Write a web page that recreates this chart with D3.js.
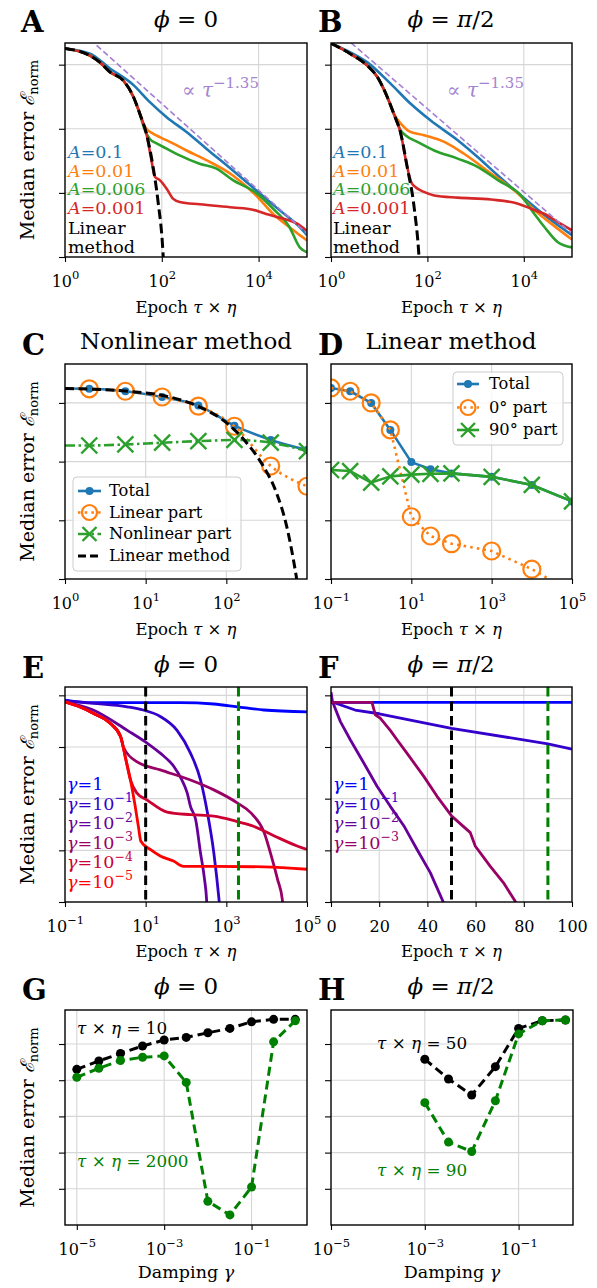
<!DOCTYPE html>
<html><head><meta charset="utf-8">
<script src="https://cdn.jsdelivr.net/npm/d3@7"></script>
<style>
body{margin:0;background:#fff}
svg{display:block}
text{font-family:"DejaVu Serif",serif;fill:#000}
</style></head>
<body><svg id="c" width="597" height="1288"></svg>
<script>
// ================= DATA =================
// Panel A (phi = 0): [epoch, median error]
const A_blue   = [[1,0.32],[3.3,0.22],[8.5,0.076],[26,0.023],[56,0.0069],[126,0.0023],[324,7.9e-4],[832,2.4e-4],[2950,5.0e-5],[8900,1.2e-5],[27000,2.9e-6],[70800,8.5e-7],[1e5,4.8e-7]];
const A_orange = [[1,0.32],[3.2,0.195],[5.2,0.12],[8.5,0.059],[16,0.032],[26,0.0098],[35,0.0030],[41,1.44e-3],[48,1.0e-3],[66,7.1e-4],[91,5.5e-4],[170,3.5e-4],[324,2.1e-4],[832,1.05e-4],[2950,3.5e-5],[8900,8.3e-6],[20000,2.2e-6],[43600,8.5e-7],[70800,4.8e-7],[1e5,3.3e-7]];
const A_green  = [[1,0.32],[3.2,0.195],[5.2,0.12],[8.5,0.059],[16,0.032],[26,0.0098],[35,0.0030],[45,8.9e-4],[56,4.9e-4],[78,3.5e-4],[126,2.4e-4],[234,1.48e-4],[603,8.1e-5],[1350,5.7e-5],[2950,2.5e-5],[8900,1.0e-5],[20000,3.2e-6],[43600,8.5e-7],[70800,2.0e-7],[1e5,1.4e-7]];
const A_red    = [[1,0.32],[3.2,0.195],[5.2,0.12],[8.5,0.059],[16,0.032],[26,0.0098],[35,0.0030],[48,7.1e-4],[61,1.05e-4],[72,3.2e-5],[91,2.5e-5],[126,1.35e-5],[170,6.6e-6],[234,5.2e-6],[603,4.4e-6],[2950,3.5e-6],[7600,3.0e-6],[14400,2.2e-6],[31600,1.58e-6],[70800,9.8e-7],[1e5,6.5e-7]];
const A_linear = [[1,0.32],[3.2,0.195],[5.2,0.12],[8.5,0.059],[16,0.032],[26,0.0098],[35,0.0030],[48,7.1e-4],[66,6.5e-5],[83,5.9e-6],[107,1e-7],[115,1e-8]];
const A_power  = [[4.5,0.40],[1e5,5.4e-7]];
// Panel B (phi = pi/2)
const B_blue   = [[1,0.46],[2.1,0.28],[5.6,0.12],[17,0.026],[45,0.0060],[117,0.0018],[425,4.4e-4],[1100,1.32e-4],[2900,3.5e-5],[8700,8.3e-6],[27000,2.0e-6],[1e5,4.8e-7]];
const B_orange = [[1,0.46],[2.5,0.22],[5.6,0.095],[9.1,0.042],[14.7,0.0098],[20,0.0030],[30,1.29e-3],[41,8.5e-4],[85,6.3e-4],[224,3.9e-4],[575,1.66e-4],[2100,4.0e-5],[7600,9.5e-6],[16600,2.9e-6],[37000,1.1e-6],[1e5,3.5e-7]];
const B_green  = [[1,0.46],[2.5,0.22],[5.6,0.095],[9.1,0.042],[14.7,0.0098],[20,0.0030],[28,8.9e-4],[35,6.3e-4],[62,3.9e-4],[138,2.1e-4],[425,1.17e-4],[1100,6.5e-5],[2900,2.5e-5],[8700,8.3e-6],[16600,2.2e-6],[27000,8.5e-7],[51000,2.9e-7],[1e5,2.0e-7]];
const B_red    = [[1,0.46],[2.5,0.22],[5.6,0.095],[9.1,0.042],[14.7,0.0098],[20,0.0030],[28,7.1e-4],[38,6.5e-5],[46,2.2e-5],[57,1.5e-5],[85,1.07e-5],[138,8.3e-6],[425,7.1e-6],[2100,6.2e-6],[7600,4.6e-6],[14100,3.2e-6],[27000,2.2e-6],[51000,1.23e-6],[1e5,6.8e-7]];
const B_linear = [[1,0.46],[2.5,0.22],[5.6,0.095],[9.1,0.042],[14.7,0.0098],[20,0.0030],[28,7.1e-4],[38,6.5e-5],[53,3.6e-6],[67,1e-7],[73,1e-8]];
const B_power  = [[2.6,0.48],[1e5,5.4e-7]];
const A_labels = ["0.1","0.01","0.006","0.001"];
// Panel C (nonlinear method)
const C_total     = [[1,0.176],[2,0.174],[5.6,0.158],[16,0.126],[45,0.090],[126,0.041],[355,0.0234],[1000,0.0158]];
const C_linPart   = [[1,0.176],[2,0.174],[5.6,0.158],[16,0.126],[45,0.088],[126,0.040],[355,0.0084],[1000,0.0038]];
const C_nonlinPart= [[1,0.0188],[2,0.0188],[5.6,0.0196],[16,0.021],[45,0.0223],[126,0.0234],[355,0.021],[1000,0.0151]];
const C_linMethod = [[1,0.176],[7,0.155],[18,0.13],[47,0.085],[100,0.046],[178,0.021],[288,0.0083],[420,0.0029],[560,7.9e-4],[745,1.0e-4],[815,4.5e-5]];
// Panel D (linear method)
const D_total  = [[0.1,0.18],[0.3,0.158],[1,0.1],[3,0.0347],[10,0.0098],[30,0.0074],[100,0.0063],[1000,0.0055],[1e4,0.0040],[1e5,0.0021]];
const D_zero   = [[0.1,0.18],[0.3,0.158],[1,0.1],[3,0.0347],[10,0.00115],[30,5.4e-4],[100,4.0e-4],[1000,3.0e-4],[1e4,1.47e-4],[1e5,6e-5]];
const D_ninety = [[0.1,0.0072],[0.3,0.0069],[1,0.0044],[3,0.0056],[10,0.0060],[30,0.0062],[100,0.0063],[1000,0.0055],[1e4,0.0040],[1e5,0.0021]];
// Panel E (phi = 0, damping)
const gammaLabels = ["1","−1","−2","−3","−4","−5"];
const E_g0 = [[0.1,0.81],[0.5,0.72],[8.7,0.72],[72,0.72],[490,0.68],[1860,0.60],[8500,0.52],[1e5,0.48]];
const E_g1 = [[0.1,0.78],[0.5,0.70],[3.5,0.60],[8.7,0.52],[23,0.39],[60,0.21],[129,0.076],[229,0.023],[339,0.0054],[490,8.9e-4],[660,1.1e-4],[724,5e-5]];
const E_g2 = [[0.1,0.75],[0.5,0.52],[3.5,0.21],[10.7,0.12],[23,0.076],[50,0.042],[79,0.023],[107,0.0129],[129,0.0071],[174,0.0039],[229,8.9e-4],[288,2.75e-4],[324,1.1e-4],[339,5e-5]];
const E_g3 = [[0.1,0.75],[0.23,0.60],[0.5,0.45],[1.3,0.29],[2.4,0.158],[2.8,0.10],[6.0,0.052],[23,0.036],[129,0.023],[490,0.0148],[1860,0.0083],[4070,0.0053],[8700,0.0022],[13800,6.6e-4],[18600,2.75e-4],[24500,1.1e-4],[27000,5e-5]];
const E_g4 = [[0.1,0.75],[0.23,0.60],[0.5,0.45],[1.3,0.29],[2.4,0.158],[3.1,0.066],[4.2,0.023],[6.0,0.0129],[10.7,0.0095],[34,0.0055],[129,0.0049],[490,0.0046],[1860,0.0036],[4900,0.0029],[15500,0.0019],[59000,0.0012],[1e5,0.00104]];
const E_g5 = [[0.1,0.75],[0.23,0.60],[0.5,0.45],[1.3,0.29],[2.4,0.158],[3.1,0.066],[4.2,0.023],[5.5,0.0071],[6.6,0.0029],[7.6,0.0015],[13,0.00104],[23,7.8e-4],[49,6.2e-4],[87,4.9e-4],[490,4.9e-4],[8700,4.8e-4],[1e5,4.3e-4]];
const E_vlines = [10, 2000];
// Panel F (phi = pi/2, damping), linear epoch
const F_g0 = [[0,0.73],[100,0.73]];
const F_g1 = [[0,0.755],[10,0.52],[20,0.44],[50,0.23],[90,0.115],[100,0.091]];
const F_g2 = [[0,1.15],[0.6,0.76],[3.9,0.31],[8.0,0.138],[13.6,0.049],[19.1,0.0174],[24.6,0.0071],[30.2,0.0030],[35.7,0.00104],[41.2,3.7e-4],[46.5,1.02e-4],[47.6,7e-5]];
const F_g3 = [[0,0.73],[17,0.73],[18.4,0.42],[20.5,0.36],[24.6,0.21],[27.4,0.138],[31.5,0.076],[38.5,0.027],[44,0.0111],[50.1,0.0046],[57.8,0.0022],[59.9,0.0012],[66.1,4.9e-4],[71.6,2.35e-4],[76.5,1.02e-4],[78.6,6e-5]];
const F_vlines = [50, 90];
// Panel G / H (error vs damping)
const G_gamma = [1e-5,3.2e-5,1e-4,3.2e-4,1e-3,3.2e-3,1e-2,3.2e-2,0.1,0.32,1];
const G_t10   = [0.020,0.034,0.055,0.088,0.129,0.152,0.204,0.27,0.41,0.48,0.48];
const G_t2000 = [0.012,0.0214,0.035,0.043,0.047,0.0087,4.5e-6,1.9e-6,1.12e-5,0.115,0.44];
const H_gamma = [1e-3,3.2e-3,1e-2,3.2e-2,0.1,0.32,1];
const H_t50   = [0.038,0.0108,0.0039,0.0237,0.27,0.44,0.46];
const H_t90   = [0.0024,1.95e-4,1.07e-4,0.0027,0.19,0.44,0.46];

// ================= DRAWING =================
const svg = d3.select("#c");
const defs = svg.append("defs");
const C = {blue:"#1f77b4",orange:"#ff7f0e",green:"#2ca02c",red:"#d62728",purple:"#9467bd"};
const gammaCols = ["#0000ff","#3300cc","#660099","#990066","#cc0033","#ff0000"];

function supLabel(sel){
  sel.each(function(d){
    const e = Math.round(Math.log10(d));
    const t = d3.select(this); t.text(null);
    t.append("tspan").text("10");
    t.append("tspan").attr("dy","-0.7em").attr("font-size","0.72em").text(String(e).replace("-","−"));
  });
}

function panel(cfg){
  const x = cfg.x, y = cfg.y;
  const [L,R] = x.range(), [B,T] = y.range();
  const id = "clip"+cfg.id;
  defs.append("clipPath").attr("id",id).append("rect").attr("x",L).attr("y",T).attr("width",R-L).attr("height",B-T);
  const g = svg.append("g");
  g.append("g").selectAll("line").data(cfg.xgrid).join("line")
    .attr("x1",d=>x(d)).attr("x2",d=>x(d)).attr("y1",T).attr("y2",B)
    .attr("stroke","#d6d6d6").attr("stroke-width",1.1);
  g.append("g").selectAll("line").data(cfg.yticks).join("line")
    .attr("y1",d=>y(d)).attr("y2",d=>y(d)).attr("x1",L).attr("x2",R)
    .attr("stroke","#d6d6d6").attr("stroke-width",1.1);
  const plot = g.append("g").attr("clip-path",`url(#${id})`);
  const p = {x,y,L,R,T,B,g,plot};
  p.finish = function(){
    g.append("rect").attr("x",L).attr("y",T).attr("width",R-L).attr("height",B-T)
      .attr("fill","none").attr("stroke","#000").attr("stroke-width",1.4);
    const xa = g.append("g").attr("transform",`translate(0,${B})`)
      .call(d3.axisBottom(x).tickValues(cfg.xticks).tickSize(5).tickSizeOuter(0).tickFormat(cfg.linear? d3.format("d") : ()=>""));
    xa.select(".domain").remove();
    xa.selectAll(".tick line").attr("stroke","#000").attr("stroke-width",1.1);
    const tt = xa.selectAll(".tick text").attr("y",30).attr("dy",null).attr("font-size",16).attr("fill","#000")
      .attr("font-family",'"DejaVu Serif",serif');
    if(!cfg.linear) supLabel(tt);
    const ya = g.append("g").attr("transform",`translate(${L},0)`)
      .call(d3.axisLeft(y).tickValues(cfg.yaxisTicks||cfg.yticks).tickSize(6).tickSizeOuter(0).tickFormat(()=>""));
    ya.select(".domain").remove();
    ya.selectAll(".tick line").attr("stroke","#000").attr("stroke-width",1.1);
    const lab = svg.append("text").attr("x",(L+R)/2).attr("y",B+cfg.xlabDy).attr("text-anchor","middle").attr("font-size",cfg.xlab==="epoch"?16.5:17.5);
    if(cfg.xlab==="epoch"){
      lab.append("tspan").text("Epoch ");
      lab.append("tspan").attr("font-style","italic").text("τ");
      lab.append("tspan").text(" × ");
      lab.append("tspan").attr("font-style","italic").text("η");
    } else {
      lab.append("tspan").text("Damping ");
      lab.append("tspan").attr("font-style","italic").text("γ");
    }
  };
  return p;
}

function line(p, data, color, width, dash, curve){
  return p.plot.append("path").datum(data)
    .attr("d", d3.line().x(d=>p.x(d[0])).y(d=>p.y(d[1])).curve(curve||d3.curveMonotoneX))
    .attr("fill","none").attr("stroke",color).attr("stroke-width",width)
    .attr("stroke-dasharray",dash||null).attr("stroke-linejoin","round");
}
function dots(p, data, color, r){
  p.plot.append("g").selectAll("circle").data(data).join("circle")
    .attr("cx",d=>p.x(d[0])).attr("cy",d=>p.y(d[1])).attr("r",r).attr("fill",color);
}
function rings(p, data, color, r){
  p.plot.append("g").selectAll("circle").data(data).join("circle")
    .attr("cx",d=>p.x(d[0])).attr("cy",d=>p.y(d[1])).attr("r",r).attr("fill","none").attr("stroke",color).attr("stroke-width",2.2);
}
function crosses(p, data, color, s){
  p.plot.append("g").selectAll("path").data(data).join("path")
    .attr("d",d=>{const cx=p.x(d[0]),cy=p.y(d[1]);return `M${cx-s},${cy-s}L${cx+s},${cy+s}M${cx-s},${cy+s}L${cx+s},${cy-s}`;})
    .attr("stroke",color).attr("stroke-width",2.4).attr("fill","none");
}
function title(cx, y, parts){
  const t = svg.append("text").attr("x",cx).attr("y",y).attr("text-anchor","middle").attr("font-size",23);
  parts.forEach(([s,it])=>t.append("tspan").attr("font-style",it?"italic":null).text(s));
}
function letter(x, y, s){
  svg.append("text").attr("x",x).attr("y",y).attr("font-size",29).attr("font-weight","bold").text(s);
}
function ylabel(cy){
  const t = svg.append("text").attr("transform",`translate(34,${cy}) rotate(-90)`).attr("text-anchor","middle").attr("font-size",19);
  t.append("tspan").text("Median error ");
  t.append("tspan").attr("font-style","italic").text("ℰ");
  t.append("tspan").attr("dy",4).attr("font-size",13).text("norm");
}
function phiTitle(cx,y,half){
  title(cx,y, half? [["ϕ",true],[" = ",false],["π",true],["/2",false]] : [["ϕ",true],[" = 0",false]]);
}

// ---------- Row 1: A, B ----------
const yAB = [1e-7, 0.474];
const rowAB = [
  {id:"A", x:d3.scaleLog().domain([1,1e5]).range([65,307]), blue:A_blue, orange:A_orange, green:A_green, red:A_red, lin:A_linear, pw:A_power, lx:68, px:182},
  {id:"B", x:d3.scaleLog().domain([1,1e5]).range([331,572]), blue:B_blue, orange:B_orange, green:B_green, red:B_red, lin:B_linear, pw:B_power, lx:333, px:447}
];
rowAB.forEach(c=>{
  const p = panel({id:c.id, x:c.x, y:d3.scaleLog().domain(yAB).range([257,43]),
    xgrid:[100,1e4], yticks:[1e-1,1e-3,1e-5], yaxisTicks:[1e-1,1e-3,1e-5,1e-7], xticks:[1,100,1e4], xlab:"epoch", xlabDy:56});
  line(p,c.blue,C.blue,2.6);
  line(p,c.orange,C.orange,2.6);
  line(p,c.green,C.green,2.6);
  line(p,c.red,C.red,2.6);
  line(p,c.lin,"#000",3,"10,4.5");
  line(p,c.pw,"#a27fd2",1.6,"6,3",d3.curveLinear);
  p.finish();
  const cols=[C.blue,C.orange,C.green,C.red];
  const bl=[158,176.5,195,213.5];
  A_labels.forEach((s,i)=>{
    const t=svg.append("text").attr("x",c.lx).attr("y",bl[i]).attr("font-size",17.5).style("fill",cols[i]);
    t.append("tspan").attr("font-style","italic").text("A");
    t.append("tspan").text("="+s);
  });
  svg.append("text").attr("x",c.lx).attr("y",234).attr("font-size",17.5).text("Linear");
  svg.append("text").attr("x",c.lx).attr("y",252.5).attr("font-size",17.5).text("method");
  const pt = svg.append("text").attr("x",c.px).attr("y",97).attr("font-size",20).style("fill","#a484d0");
  pt.append("tspan").text("∝ ");
  pt.append("tspan").attr("font-style","italic").text("τ");
  pt.append("tspan").attr("dy",-9).attr("font-size",15).text("−1.35");
});
letter(21,32,"A"); letter(318,32,"B");
phiTitle(186,27,false); phiTitle(451,27,true);
ylabel(150);

// ---------- Row 2: C, D ----------
const yCD = [1e-4, 0.46];
{
  const p = panel({id:"C", x:d3.scaleLog().domain([1,1000]).range([65,307]), y:d3.scaleLog().domain(yCD).range([579,364]),
    xgrid:[10,100], yticks:[1e-1,1e-2,1e-3], yaxisTicks:[1e-1,1e-2,1e-3,1e-4], xticks:[1,10,100], xlab:"epoch", xlabDy:56});
  line(p,C_total,C.blue,2.6);
  dots(p,C_total.slice(1),C.blue,4);
  line(p,C_linPart,C.orange,2.6,"2.5,4.2");
  rings(p,C_linPart.slice(1),C.orange,8.5);
  line(p,C_nonlinPart,C.green,2.6,"10,3.5,2.5,3.5");
  crosses(p,C_nonlinPart.slice(1),C.green,8);
  line(p,C_linMethod,"#000",3,"9,4.5");
  p.finish();
  const lg = svg.append("g");
  lg.append("rect").attr("x",73).attr("y",477).attr("width",168).attr("height",94).attr("rx",4)
    .attr("fill","#fff").attr("fill-opacity",0.8).attr("stroke","#cccccc").attr("stroke-width",1);
  const items = [["Total",C.blue,null,"dot"],["Linear part",C.orange,"2.5,4.2","ring"],["Nonlinear part",C.green,"10,3.5,2.5,3.5","x"],["Linear method","#000","8,4","none"]];
  const bls=[496,517.5,539,561];
  items.forEach((it,i)=>{
    const yy=bls[i]-5;
    lg.append("line").attr("x1",78).attr("x2",101).attr("y1",yy).attr("y2",yy).attr("stroke",it[1]).attr("stroke-width",it[3]==="none"?3:2.6).attr("stroke-dasharray",it[2]);
    if(it[3]==="dot") lg.append("circle").attr("cx",89.5).attr("cy",yy).attr("r",4).attr("fill",it[1]);
    if(it[3]==="ring") lg.append("circle").attr("cx",89.5).attr("cy",yy).attr("r",7.5).attr("fill","none").attr("stroke",it[1]).attr("stroke-width",2.2);
    if(it[3]==="x") lg.append("path").attr("d",`M${82.5},${yy-7}L${96.5},${yy+7}M${82.5},${yy+7}L${96.5},${yy-7}`).attr("stroke",it[1]).attr("stroke-width",2.4);
    lg.append("text").attr("x",109).attr("y",bls[i]).attr("font-size",16.3).text(it[0]);
  });
}
{
  const p = panel({id:"D", x:d3.scaleLog().domain([0.1,1e5]).range([331,572]), y:d3.scaleLog().domain(yCD).range([579,364]),
    xgrid:[10,1000], yticks:[1e-1,1e-2,1e-3], yaxisTicks:[1e-1,1e-2,1e-3,1e-4], xticks:[0.1,10,1000,1e5], xlab:"epoch", xlabDy:56});
  line(p,D_total,C.blue,2.6,null,d3.curveLinear);
  dots(p,D_total,C.blue,4);
  line(p,D_zero,C.orange,2.6,"2.5,4.2",d3.curveLinear);
  rings(p,D_zero,C.orange,8.5);
  line(p,D_ninety,C.green,2.6,null,d3.curveLinear);
  crosses(p,D_ninety,C.green,8);
  p.finish();
  const lg = svg.append("g");
  lg.append("rect").attr("x",453).attr("y",372).attr("width",110).attr("height",73).attr("rx",4)
    .attr("fill","#fff").attr("fill-opacity",0.8).attr("stroke","#cccccc").attr("stroke-width",1);
  const items = [["Total",C.blue,null,"dot"],["0° part",C.orange,"2.5,4.2","ring"],["90° part",C.green,null,"x"]];
  const bls=[389,412.5,435];
  items.forEach((it,i)=>{
    const yy=bls[i]-5;
    lg.append("line").attr("x1",457).attr("x2",479).attr("y1",yy).attr("y2",yy).attr("stroke",it[1]).attr("stroke-width",2.6).attr("stroke-dasharray",it[2]);
    if(it[3]==="dot") lg.append("circle").attr("cx",468).attr("cy",yy).attr("r",4).attr("fill",it[1]);
    if(it[3]==="ring") lg.append("circle").attr("cx",468).attr("cy",yy).attr("r",7.5).attr("fill","none").attr("stroke",it[1]).attr("stroke-width",2.2);
    if(it[3]==="x") lg.append("path").attr("d",`M${461},${yy-7}L${475},${yy+7}M${461},${yy+7}L${475},${yy-7}`).attr("stroke",it[1]).attr("stroke-width",2.4);
    lg.append("text").attr("x",489).attr("y",bls[i]).attr("font-size",16.3).text(it[0]);
  });
}
letter(22,355,"C"); letter(318,355,"D");
title(186,349,[["Nonlinear method",false]]); title(451,349,[["Linear method",false]]);
ylabel(471.5);

// ---------- Row 3: E, F ----------
const yEF = [1e-4, 1.45];
function gammaLegend(x0, n){
  const bls=[790,809.5,829,848.5,868,887.5];
  for(let i=0;i<n;i++){
    const t=svg.append("text").attr("x",x0).attr("y",bls[i]).attr("font-size",17.5).style("fill",gammaCols[i]);
    t.append("tspan").attr("font-style","italic").text("γ");
    if(i===0){ t.append("tspan").text("=1"); }
    else { t.append("tspan").text("=10"); t.append("tspan").attr("dy",-7.5).attr("font-size",12.5).text(gammaLabels[i]); }
  }
}
{
  const p = panel({id:"E", x:d3.scaleLog().domain([0.1,1e5]).range([65,307]), y:d3.scaleLog().domain(yEF).range([902,687]),
    xgrid:[10,1000], yticks:[1,0.1,0.01,1e-3], yaxisTicks:[1,0.1,0.01,1e-3,1e-4], xticks:[0.1,10,1000,1e5], xlab:"epoch", xlabDy:55});
  [E_g0,E_g1,E_g2,E_g3,E_g4,E_g5].forEach((d,i)=>line(p,d,gammaCols[i],2.8));
  const vc=["#000","#008000"];
  E_vlines.forEach((v,i)=>p.plot.append("line").attr("x1",p.x(v)).attr("x2",p.x(v)).attr("y1",p.T).attr("y2",p.B)
    .attr("stroke",vc[i]).attr("stroke-width",3).attr("stroke-dasharray","9.5,5"));
  p.finish();
  gammaLegend(67,6);
}
{
  const p = panel({id:"F", x:d3.scaleLinear().domain([0,100]).range([331,572]), y:d3.scaleLog().domain(yEF).range([902,687]),
    xgrid:[20,40,60,80], yticks:[1,0.1,0.01,1e-3], yaxisTicks:[1,0.1,0.01,1e-3,1e-4], xticks:[0,20,40,60,80,100], linear:true, xlab:"epoch", xlabDy:55});
  [F_g0,F_g1,F_g2,F_g3].forEach((d,i)=>line(p,d,gammaCols[i],2.8,null,d3.curveLinear));
  const vc=["#000","#008000"];
  F_vlines.forEach((v,i)=>p.plot.append("line").attr("x1",p.x(v)).attr("x2",p.x(v)).attr("y1",p.T).attr("y2",p.B)
    .attr("stroke",vc[i]).attr("stroke-width",3).attr("stroke-dasharray","9.5,5"));
  p.finish();
  gammaLegend(333,4);
}
letter(22,678,"E"); letter(318,678,"F");
phiTitle(186,672,false); phiTitle(451,672,true);
ylabel(794.5);

// ---------- Row 4: G, H ----------
const yGH = [1e-6, 0.87];
function annot(x,y,val,col){
  const t=svg.append("text").attr("x",x).attr("y",y).attr("font-size",16.8).style("fill",col);
  t.append("tspan").attr("font-style","italic").text("τ");
  t.append("tspan").text(" × ");
  t.append("tspan").attr("font-style","italic").text("η");
  t.append("tspan").text(" = "+val);
}
{
  const p = panel({id:"G", x:d3.scaleLog().domain([5.37e-6,1.86]).range([65,307]), y:d3.scaleLog().domain(yGH).range([1225,1010]),
    xgrid:[1e-5,1e-3,1e-1], yticks:[1e-1,1e-2,1e-3,1e-4,1e-5], xticks:[1e-5,1e-3,1e-1], xlab:"damp", xlabDy:53});
  const k = G_gamma.map((g,i)=>[g,G_t10[i]]), gr = G_gamma.map((g,i)=>[g,G_t2000[i]]);
  line(p,k,"#000",3,"9,5",d3.curveLinear); dots(p,k,"#000",4.5);
  line(p,gr,"#008000",3,"9,5",d3.curveLinear); dots(p,gr,"#008000",4.5);
  p.finish();
  annot(77,1034,"10","#000");
  annot(77,1167,"2000","#008000");
}
{
  const p = panel({id:"H", x:d3.scaleLog().domain([1e-5,1.445]).range([331,573]), y:d3.scaleLog().domain(yGH).range([1225,1010]),
    xgrid:[1e-3,1e-1], yticks:[1e-1,1e-2,1e-3,1e-4,1e-5], xticks:[1e-5,1e-3,1e-1], xlab:"damp", xlabDy:53});
  const k = H_gamma.map((g,i)=>[g,H_t50[i]]), gr = H_gamma.map((g,i)=>[g,H_t90[i]]);
  line(p,k,"#000",3,"9,5",d3.curveLinear); dots(p,k,"#000",4.5);
  line(p,gr,"#008000",3,"9,5",d3.curveLinear); dots(p,gr,"#008000",4.5);
  p.finish();
  annot(377,1049,"50","#000");
  annot(377,1176,"90","#008000");
}
letter(22,1000,"G"); letter(318,1000,"H");
phiTitle(186,994,false); phiTitle(451,994,true);
ylabel(1117.5);
</script></body></html>
